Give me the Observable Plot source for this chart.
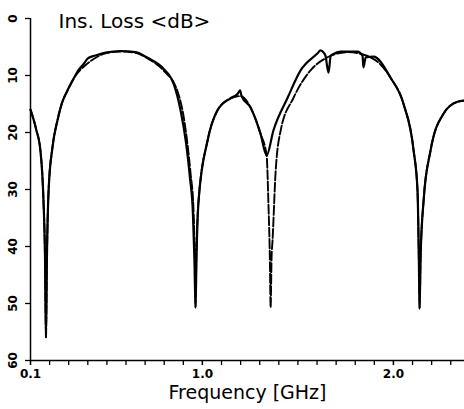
<!DOCTYPE html>
<html><head><meta charset="utf-8">
<script src="https://cdn.jsdelivr.net/npm/d3@7"></script>
<script src="https://cdn.jsdelivr.net/npm/@observablehq/plot@0.6"></script>
<style>
html,body{margin:0;padding:0;background:#fff;}
</style></head><body><div id="chart"></div>
<script>
// Axis ticks
const yTicks = [0, 10, 20, 30, 40, 50, 60];
const xMinorTicks = [0.1,0.2,0.3,0.4,0.5,0.6,0.7,0.8,0.9,1.0,1.1,1.2,1.3,1.4,1.5,1.6,1.7,1.8,1.9,2.0,2.1,2.2,2.3];
const xTickLabels = [0.1, 1.0, 2.0];
const titleText = "Ins. Loss <dB>";
const xLabelText = "Frequency [GHz]";

// Computed (dashed) curve
const freqCalc = [0.1,0.13,0.152,0.168,0.176,0.181,0.186,0.195,0.215,0.241,0.265,0.294,0.320,0.35,0.377,0.414,0.493,0.571,0.650,0.713,0.796,0.870,0.905,0.938,0.953,0.960,0.964,0.968,0.980,1.027,1.079,1.147,1.199,1.252,1.304,1.336,1.346,1.353,1.357,1.362,1.367,1.383,1.41,1.477,1.566,1.655,1.760,1.880,1.985,2.053,2.105,2.126,2.133,2.137,2.142,2.158,2.194,2.262,2.335,2.372];
const lossCalc = [16.0,19.5,23.2,32,42,56,42,30,22.6,17.9,14.8,12.6,10.9,9.4,8.5,7.5,6.1,5.8,6.0,7.0,9.1,12.8,17.9,27.2,33.2,42,50.7,42,31.9,21.4,16.1,14.0,13.6,15.6,20.2,24.0,33,42,50.7,42,39,27,19.6,13.9,9.1,6.8,5.9,6.8,10.4,15.0,23.0,30.2,42,50.9,42,31.9,23.2,16.7,14.6,14.4];

// Measured (solid) curve
const freqMeas = [0.1,0.13,0.152,0.168,0.176,0.181,0.186,0.195,0.215,0.241,0.265,0.294,0.320,0.35,0.38,0.40,0.44,0.493,0.571,0.650,0.713,0.796,0.850,0.885,0.915,0.935,0.950,0.958,0.964,0.969,0.980,1.027,1.079,1.147,1.185,1.197,1.205,1.252,1.304,1.336,1.372,1.446,1.514,1.603,1.618,1.635,1.644,1.660,1.672,1.681,1.723,1.812,1.838,1.843,1.855,1.896,1.985,2.053,2.105,2.126,2.133,2.137,2.142,2.158,2.194,2.262,2.335,2.372];
const lossMeas = [16.0,19.5,23.2,32,42,56,42,30,22.6,17.9,14.8,12.6,10.9,9.1,7.9,7.0,6.5,6.0,5.7,5.9,6.9,8.8,11.5,16,22,28,34,42,50.7,42,31.9,21.4,16.1,14.0,13.2,12.6,13.6,15.6,20.2,24.0,19.6,13.9,9.1,6.1,5.6,6.0,6.5,9.5,6.5,6.3,5.8,5.8,6.5,8.6,6.8,6.7,10.4,15.0,23.0,30.2,42,50.9,42,31.9,23.2,16.7,14.6,14.4];

const calc = freqCalc.map((f, i) => ({f, db: lossCalc[i]}));
const meas = freqMeas.map((f, i) => ({f, db: lossMeas[i]}));

const chart = Plot.plot({
  width: 464,
  height: 409,
  marginLeft: 30,
  marginRight: 0,
  marginTop: 18,
  marginBottom: 49,
  style: {fontFamily: "DejaVu Sans", background: "white", color: "black", overflow: "visible"},
  x: {type: "linear", domain: [0.1, 2.372]},
  y: {type: "linear", domain: [0, 60], reverse: true},
  marks: [
    Plot.axisX({ticks: xMinorTicks, tickFormat: () => "", tickSize: 5, strokeWidth: 1.3, label: null}),
    Plot.axisX({ticks: xTickLabels, tickFormat: d => d.toFixed(1), tickSize: 5, strokeWidth: 1.3, tickPadding: 4, fontSize: 12, fontWeight: "bold", label: null}),
    Plot.axisY({ticks: yTicks, tickFormat: () => "", tickSize: 5, strokeWidth: 1.3, label: null}),
    Plot.text(yTicks, {y: d => d, text: d => String(d), frameAnchor: "left", dx: -17, rotate: -90, fontSize: 12, fontWeight: "bold", textAnchor: "middle"}),
    Plot.ruleX([0.1], {y1: 0, y2: 60, strokeWidth: 1.5}),
    Plot.ruleY([60], {strokeWidth: 1.5}),
    Plot.line(calc, {x: "f", y: "db", stroke: "black", strokeWidth: 1.9, strokeDasharray: "9,2.5", curve: "monotone-x"}),
    Plot.line(meas, {x: "f", y: "db", stroke: "black", strokeWidth: 2.2, curve: "monotone-x"}),
    Plot.text([titleText], {frameAnchor: "top-left", dx: 28, dy: -5, textAnchor: "start", lineAnchor: "top", fontSize: 20}),
    Plot.text([xLabelText], {frameAnchor: "bottom-left", dx: 138, dy: 38, textAnchor: "start", lineAnchor: "bottom", fontSize: 19})
  ]
});
document.getElementById("chart").appendChild(chart);
</script>
</body></html>
